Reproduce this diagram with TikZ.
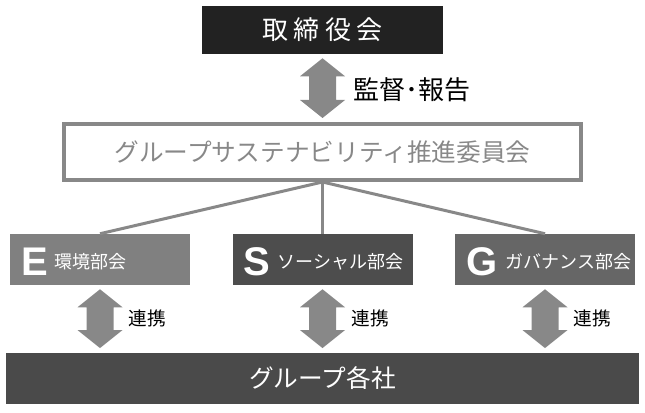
\documentclass[tikz,border=0pt]{standalone}
\usepackage{fontspec}
\setmainfont{Noto Sans CJK JP}
\newfontfamily\latinbold{Liberation Sans}
\usetikzlibrary{positioning,calc}

\definecolor{boardblack}{HTML}{222222}
\definecolor{midgray}{HTML}{888888}
\definecolor{egray}{HTML}{808080}
\definecolor{sgray}{HTML}{4D4D4D}
\definecolor{ggray}{HTML}{666666}
\definecolor{groupgray}{HTML}{4A4A4A}

% double block arrow from top tip #1 to bottom tip #2
\newcommand{\pairarrow}[2]{%
  \fill[midgray] (#1) -- ++(22.5,18) -- ++(-9,0) -- ($(#2)+(13.5,-18)$)
    -- ++(9,0) -- (#2) -- ++(-22.5,-18) -- ++(9,0)
    -- ($(#1)+(-13.5,18)$) -- ++(-9,0) -- cycle;}

\begin{document}
\begin{tikzpicture}[x=0.75pt, y=-0.75pt,
    block/.style={rectangle, inner sep=0pt, minimum width=135pt, minimum height=38.25pt},
    letter/.style={inner sep=0pt, text=white, font=\latinbold\bfseries\fontsize{30}{30}\selectfont},
    sublabel/.style={inner sep=0pt, text=white, font=\fontsize{13.5}{13.5}\selectfont},
    tie/.style={inner sep=0pt, anchor=west, font=\fontsize{14}{14}\selectfont},
    link/.style={draw=midgray, line width=2.25pt}]

    \useasboundingbox (0,0) rectangle (645,413);

    % board and committee
    \node[fill=boardblack, minimum width=180.75pt, minimum height=36pt, text=white,
        font=\fontsize{19.5}{19.5}\selectfont\addfontfeature{LetterSpace=20}] (board) at (322.5,30) {取締役会};
    \node[draw=midgray, line width=3pt, minimum width=387.75pt, minimum height=42pt, text=midgray,
        font=\fontsize{18.5}{18.5}\selectfont] (com) at (322.5,152) {グループサステナビリティ推進委員会};

    \coordinate (bT) at ([yshift=-3pt]board.south);
    \coordinate (bB) at ([yshift=3pt]com.north);
    \pairarrow{bT}{bB}
    \node[tie, font=\fontsize{19.5}{19.5}\selectfont] (report) at (353,90) {監督･報告};

    % E, S, G
    \node[block, fill=egray] (E) at (100,259.5) {};
    \node[block, fill=sgray] (S) at (322.5,259.5) {};
    \node[block, fill=ggray] (G) at (545,259.5) {};

    \node[letter, anchor=west] (eL) at ([xshift=8.5pt,yshift=-1.5pt]E.west) {E};
    \node[sublabel, right=4.5pt of eL] (eT) {環境部会};
    \node[letter, anchor=west] (sL) at ([xshift=8.5pt,yshift=-1.5pt]S.west) {S};
    \node[sublabel, right=5pt of sL] (sT) {ソーシャル部会};
    \node[letter, anchor=west] (gL) at ([xshift=8.5pt,yshift=-1.5pt]G.west) {G};
    \node[sublabel, right=6pt of gL] (gT) {ガバナンス部会};

    \draw[link] (com.south) -- (E.north);
    \draw[link] (com.south) -- (S.north);
    \draw[link] (com.south) -- (G.north);

    % group companies
    \node[fill=groupgray, minimum width=474.75pt, minimum height=38.25pt, text=white,
        font=\fontsize{18.5}{18.5}\selectfont] (group) at (322.5,378.5) {グループ各社};

    \foreach \b in {E,S,G}{
        \coordinate (\b top) at ([yshift=-3pt]\b.south);
        \coordinate (\b foot) at (\b.south |- group.north);
        \coordinate (\b bot) at ([yshift=3.5pt]\b foot);
        \pairarrow{\b top}{\b bot}
        \node[tie] (\b tie) at ([xshift=21.5pt]$(\b top)!0.5!(\b bot)$) {連携};
    }
\end{tikzpicture}
\end{document}
